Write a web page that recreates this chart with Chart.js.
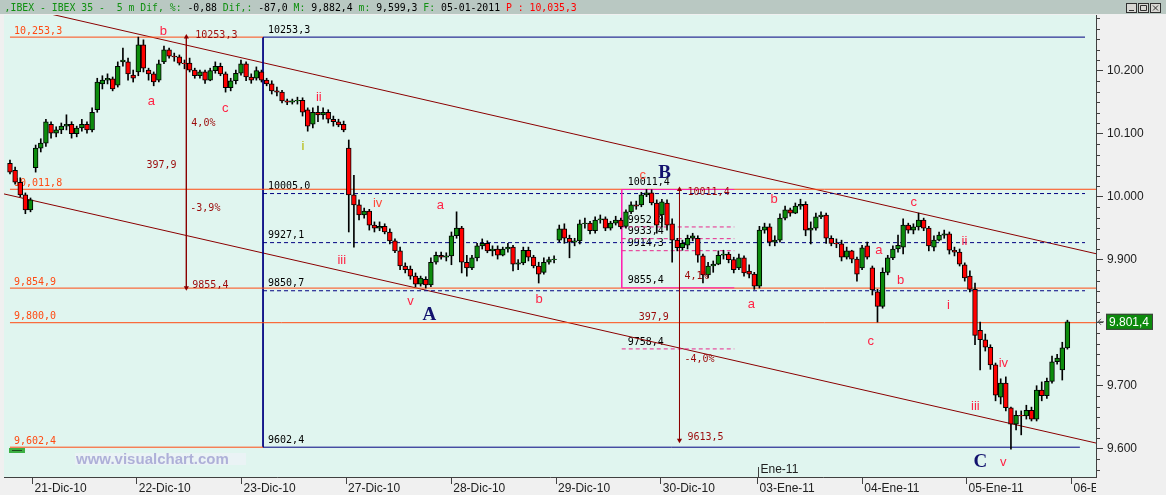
<!DOCTYPE html>
<html><head><meta charset="utf-8">
<script src="https://cdn.jsdelivr.net/npm/chart.js@4.4.1/dist/chart.umd.min.js"></script>
<style>html,body{margin:0;padding:0;background:#f0f0f0;overflow:hidden}canvas{display:block}</style>
</head><body>
<canvas id="c" width="1166" height="495"></canvas>
<script>
// ---- time axis (index of 25-minute candles) ----
const dayTicks  = [4.4, 24.69, 45.11, 65.47, 85.97, 106.39, 126.79, 145.65, 166.03, 186.34, 206.79];
const dayLabels = ['21-Dic-10','22-Dic-10','23-Dic-10','27-Dic-10','28-Dic-10','29-Dic-10','30-Dic-10','03-Ene-11','04-Ene-11','05-Ene-11','06-Ene-11'];
const monthTick = 145.65, monthLabel = 'Ene-11';

// ---- IBEX 35 candles ----
const opens = [10053,10042,10023,10003,9979,10046,10077,10085,10115,10101,
10106,10112,10115,10100,10109,10115,10106,10138,10179,10185,
10187,10177,10214,10214,10193,10198,10241,10201,10195,10185,
10214,10233,10223,10222,10212,10212,10201,10192,10198,10185,
10200,10207,10195,10173,10184,10196,10211,10190,10188,10198,
10185,10179,10168,10166,10152,10150,10152,10153,10138,10115,
10134,10130,10134,10123,10119,10115,10077,10003,9987,9971,
9977,9955,9950,9953,9944,9930,9914,9890,9885,9874,
9861,9869,9860,9896,9907,9904,9906,9938,9950,9896,
9887,9903,9922,9926,9914,9917,9907,9917,9920,9893,
9895,9915,9904,9890,9880,9896,9900,9931,9949,9934,
9928,9930,9957,9958,9946,9963,9965,9950,9958,9963,
9953,9976,9987,9987,10003,10006,9990,9971,9990,9957,
9931,9919,9923,9934,9934,9906,9876,9890,9893,9907,
9909,9900,9887,9903,9882,9877,9858,9947,9952,9928,
9931,9966,9979,9974,9985,9988,9947,9950,9968,9971,
9934,9926,9925,9904,9914,9901,9887,9922,9887,9849,
9826,9880,9903,9917,9920,9955,9947,9952,9963,9950,
9920,9931,9939,9941,9915,9912,9892,9874,9853,9788,
9773,9761,9733,9682,9704,9665,9639,9653,9652,9661,
9647,9693,9684,9707,9738,9725,9760];
const highs = [10058,10047,10030,10006,9998,10082,10092,10123,10119,10111,
10117,10130,10119,10112,10123,10119,10141,10188,10192,10195,
10190,10214,10236,10220,10201,10253.3,10249,10204,10198,10217,
10239,10236,10228,10225,10217,10220,10204,10201,10201,10204,
10214,10212,10198,10188,10201,10217,10214,10195,10206,10201,
10188,10184,10174,10169,10155,10155,10158,10157,10141,10141,
10144,10141,10138,10128,10123,10120,10090,10034,9995,9982,
9980,9960,9960,9957,9949,9933,9920,9895,9890,9879,
9874,9873,9903,9912,9912,9911,9944,9976,9953,9907,
9907,9926,9933,9930,9922,9922,9920,9926,9923,9900,
9920,9920,9907,9896,9903,9904,9906,9955,9957,9939,
9934,9963,9966,9961,9968,9971,9968,9961,9969,9966,
9979,9992,9993,10007,10011.4,10011,9995,9996,9995,9965,
9934,9931,9939,9942,9938,9909,9896,9898,9914,9915,
9912,9904,9909,9906,9892,9880,9953,9958,9957,9938,
9973,9985,9982,9990,9996,9992,9960,9974,9976,9974,
9938,9933,9931,9920,9915,9904,9923,9928,9890,9853,
9887,9907,9922,9939,9965,9958,9957,9974,9966,9953,
9938,9944,9947,9944,9920,9917,9895,9882.4,9863,9801,
9782,9765,9736,9711,9714,9666,9660,9660,9669,9666,
9700,9706,9712,9747,9750,9769,9804];
const lows = [10036,10020,10000,9973,9976,10039,10071,10080,10093,10095,
10100,10106,10093,10095,10104,10101,10103,10134,10171,10179,
10168,10174,10207,10185,10182,10192,10198,10185,10176,10182,
10211,10220,10215,10209,10203,10198,10188,10188,10180,10184,
10196,10192,10166,10168,10179,10193,10184,10180,10185,10182,
10176,10163,10160,10149,10146,10147,10147,10128,10104,10109,
10119,10123,10117,10112,10111,10103,9944,9920,9963,9966,
9947,9944,9946,9941,9925,9911,9884,9879,9869,9857,
9858,9855,9857,9893,9901,9898,9892,9934,9879,9874,
9884,9898,9917,9911,9906,9901,9906,9912,9882,9884,
9892,9898,9887,9863,9877,9893,9895,9928,9926,9903,
9922,9925,9950,9941,9942,9958,9946,9947,9955,9949,
9950,9973,9980,9984,10000,9987,9942,9952,9947,9896,
9914,9915,9917,9930,9896,9863,9871,9880,9892,9901,
9895,9879,9884,9874,9871,9853,9855,9942,9922,9922,
9928,9963,9969,9973,9980,9938,9925,9947,9965,9926,
9922,9919,9898,9901,9895,9866,9884,9901,9844,9801,
9823,9876,9900,9912,9909,9942,9941,9947,9946,9914,
9914,9930,9934,9909,9906,9890,9866,9849,9765,9725,
9755,9726,9676,9671,9660,9599.3,9630,9622,9647,9644,
9644,9676,9680,9704,9734,9709,9758];
const closes = [10039,10023,10003,9979,9995,10077,10085,10119,10101,10106,
10112,10115,10100,10109,10115,10106,10134,10182,10185,10188,
10171,10207,10217,10195,10188,10241,10204,10195,10182,10211,
10233,10223,10222,10212,10211,10201,10192,10198,10185,10200,
10207,10195,10173,10184,10196,10211,10190,10185,10200,10185,
10179,10168,10166,10152,10150,10152,10153,10134,10112,10134,
10130,10134,10123,10119,10114,10106,10003,9987,9971,9977,
9955,9950,9953,9944,9930,9914,9890,9884,9874,9861,
9871,9860,9896,9907,9904,9906,9938,9950,9896,9887,
9903,9922,9926,9914,9917,9907,9917,9920,9893,9895,
9915,9904,9890,9877,9896,9900,9901,9949,9934,9928,
9930,9957,9958,9946,9963,9965,9950,9958,9963,9952,
9976,9987,9985,10003,10006,9990,9955,9992,9955,9931,
9919,9926,9934,9938,9907,9876,9890,9893,9907,9909,
9900,9884,9903,9879,9877,9858,9947,9952,9928,9931,
9966,9979,9974,9985,9988,9947,9950,9968,9971,9934,
9926,9925,9904,9914,9901,9877,9919,9904,9852,9826,
9880,9903,9917,9923,9955,9947,9952,9963,9950,9922,
9931,9939,9941,9915,9912,9893,9871,9853,9780,9773,
9761,9733,9685,9704,9665,9639,9653,9652,9661,9647,
9693,9684,9707,9738,9744,9760,9801.4];

// ---- drawn levels (prices) ----
const orangeLevels = [10253.3, 10011.8, 9854.9, 9800.0, 9602.4];
const orangeTexts  = ['10,253,3','10,011,8','9,854,9','9,800,0','9,602,4'];
const fiboLevels = [10253.3, 10005.0, 9927.1, 9850.7, 9602.4];
const fiboTexts  = ['10253,3','10005,0','9927,1','9850,7','9602,4'];
const boxLevels = [10011.4, 9952.0, 9933.4, 9914.3, 9855.4, 9758.4];
const boxTexts  = ['10011,4','9952,0','9933,4','9914,3','9855,4','9758,4'];
const measureA = {from: 10253.3, to: 9855.4, top: '10253,3', bottom: '9855,4', up: '4,0%', size: '397,9', down: '-3,9%'};
const measureB = {from: 10011.4, to: 9613.5, top: '10011,4', bottom: '9613,5', up: '4,1%', size: '397,9', down: '-4,0%'};
const channelUpper = [[8.15, 10289.5], [211.57, 9909.5]];
const channelLower = [[-1.165, 10004.4], [211.57, 9609.0]];
const lastPriceText = '9.801,4';

// ---- wave labels: [text, time, price, kind] ----
const waveLabels = [
 ['b',29.89,10263,'r'],['a',27.56,10151.9,'r'],['c',41.93,10140.8,'r'],['ii',60.17,10158.2,'r'],['i',57.07,10080.5,'o'],
 ['iii',64.64,9899.5,'r'],['iv',71.62,9990,'or'],['v',78.03,9834.4,'r'],['A',81.72,9812.2,'N'],['a',83.85,9986.8,'r'],
 ['b',103.07,9837.6,'r'],['c',123.25,10034.4,'or'],['B',127.52,10037.6,'N'],['a',144.41,9829.7,'r'],['b',148.87,9996.3,'r'],
 ['a',169.25,9915.4,'r'],['b',173.52,9867.8,'r'],['c',167.7,9771,'r'],['c',176.05,9991.5,'r'],['ii',185.95,9929.7,'r'],
 ['i',182.84,9828.1,'r'],['iv',193.52,9736,'r'],['iii',188.08,9667.8,'r'],['v',193.52,9578.9,'r'],['C',189.05,9578.9,'N']
];

// ---- layout / style constants ----
const X_MIN = -1.165, X_MAX = 211.57, Y_MIN = 9555.1, Y_MAX = 10288.4;
const FIBO_LEFT = 49.3, FIBO_RIGHT = 209.43, BOX_LEFT = 119.18, BOX_RIGHT = 141.11, MEAS_A = 34.36, MEAS_B = 130.43;
const ORANGE = '#ff4a12', NAVY = '#000080', PINK = '#ff20b0', PINKD = '#e8288c', DRED = '#8b0000', DREDT = '#9b0a0a';
const GREEN = '#0c8c0c', RED = '#ff0000';
const AXF = '"Liberation Sans",Arial,sans-serif';
const MONO = '"DejaVu Sans Mono",monospace';

function seg(x1, y1, x2, y2, color, dash, order, extra) {
  return Object.assign({type: 'line', data: [{x: x1, y: y1}, {x: x2, y: y2}], borderColor: color, borderWidth: 1,
    borderDash: dash || [], pointRadius: 0, fill: false, tension: 0, order: order}, extra || {});
}

const idx = closes.map((_, i) => i);
const datasets = [
  {type: 'bar', data: idx.map(i => ({x: i, y: [opens[i], closes[i]]})),
   backgroundColor: idx.map(i => closes[i] >= opens[i] ? GREEN : RED), borderColor: '#000', borderWidth: 1,
   borderSkipped: false, barThickness: 4.8, grouped: false, order: 0},
  {type: 'bar', data: idx.map(i => ({x: i, y: [lows[i], highs[i]]})), backgroundColor: '#000', borderWidth: 0,
   barThickness: 1, grouped: false, order: 1}
];
[[MEAS_A, measureA], [MEAS_B, measureB]].forEach(([k, m]) => {
  datasets.push(seg(k, m.from, k, m.to, DRED, null, 2, {pointRadius: 3, pointStyle: 'triangle', pointRotation: [0, 180],
    pointBackgroundColor: DRED, pointBorderColor: DRED, pointBorderWidth: 0}));
});
datasets.push(seg(BOX_LEFT, boxLevels[0], BOX_RIGHT, boxLevels[0], PINK, null, 3));
datasets.push(seg(BOX_LEFT, boxLevels[4], BOX_RIGHT, boxLevels[4], PINK, null, 3));
datasets.push(seg(BOX_LEFT, boxLevels[0], BOX_LEFT, boxLevels[4], PINK, null, 3));
[1, 2, 3, 5].forEach(j => datasets.push(seg(BOX_LEFT, boxLevels[j], BOX_RIGHT, boxLevels[j], PINKD, [4, 3], 3)));
orangeLevels.forEach((v, j) => datasets.push(seg(0, v, (j === 0 || j === 4) ? FIBO_LEFT : X_MAX, v, ORANGE, null, 4)));
datasets.push(seg(FIBO_LEFT, fiboLevels[0], FIBO_RIGHT, fiboLevels[0], NAVY, null, 5));
datasets.push(seg(FIBO_LEFT, fiboLevels[4], FIBO_RIGHT - 1, fiboLevels[4], NAVY, null, 5));
datasets.push(seg(FIBO_LEFT, fiboLevels[0], FIBO_LEFT, fiboLevels[4], NAVY, null, 5));
[1, 2, 3].forEach(j => datasets.push(seg(FIBO_LEFT, fiboLevels[j], FIBO_RIGHT, fiboLevels[j], NAVY, [4, 3], 5)));
datasets.push(seg(channelUpper[0][0], channelUpper[0][1], channelUpper[1][0], channelUpper[1][1], DRED, null, 6));
datasets.push(seg(channelLower[0][0], channelLower[0][1], channelLower[1][0], channelLower[1][1], DRED, null, 6));

function fmtThousands(v) { return Math.floor(v / 1000) + '.' + String(Math.round(v % 1000)).padStart(3, '0'); }

const annot = {
  id: 'annot',
  beforeDraw(chart) {
    const {ctx, chartArea: a} = chart;
    ctx.save();
    ctx.fillStyle = '#f0f0f0'; ctx.fillRect(0, 0, chart.width, chart.height);
    ctx.fillStyle = '#b9c8c2'; ctx.fillRect(0, 0, chart.width, 14);
    ctx.fillStyle = '#e0f5ef'; ctx.fillRect(a.left, a.top, a.right - a.left, a.bottom - a.top);
    ctx.restore();
  },
  beforeDatasetsDraw(chart) {
    const {ctx} = chart, X = chart.scales.x, Y = chart.scales.y;
    ctx.save();
    ctx.font = '10px ' + MONO; ctx.textBaseline = 'middle'; ctx.textAlign = 'left';
    ctx.fillStyle = ORANGE;
    orangeLevels.forEach((v, j) => ctx.fillText(orangeTexts[j], X.getPixelForValue(0.78), Y.getPixelForValue(v) - 6));
    ctx.fillStyle = '#000';
    fiboLevels.forEach((v, j) => ctx.fillText(fiboTexts[j], X.getPixelForValue(50.27), Y.getPixelForValue(v) - 7));
    boxLevels.forEach((v, j) => ctx.fillText(boxTexts[j], X.getPixelForValue(120.34), Y.getPixelForValue(v) - 7));
    ctx.restore();
  },
  afterDatasetsDraw(chart) {
    const {ctx} = chart, X = chart.scales.x, Y = chart.scales.y;
    const px = v => X.getPixelForValue(v), py = v => Y.getPixelForValue(v);
    ctx.save();
    ctx.textBaseline = 'middle';
    ctx.font = '10px ' + MONO; ctx.fillStyle = DREDT; ctx.textAlign = 'left';
    ctx.fillText(measureA.top, px(36.1), py(10256.6));
    ctx.fillText(measureA.bottom, px(35.52), py(9859.8));
    ctx.fillText(measureA.up, px(35.33), py(10117));
    ctx.fillText(measureA.size, px(26.59), py(10050.3));
    ctx.fillText(measureA.down, px(35.13), py(9982));
    ctx.fillText(measureB.top, px(131.99), py(10007.4));
    ctx.fillText(measureB.bottom, px(131.99), py(9617.8));
    ctx.fillText(measureB.up, px(131.41), py(9874.1));
    ctx.fillText(measureB.size, px(122.48), py(9808.2));
    ctx.fillText(measureB.down, px(131.41), py(9742.4));
    ctx.textAlign = 'center';
    waveLabels.forEach(([t, k, p, kind]) => {
      if (kind === 'N') { ctx.font = 'bold 19px "Liberation Serif",serif'; ctx.fillStyle = '#12126e'; }
      else { ctx.font = '13px "Liberation Sans",sans-serif';
        ctx.fillStyle = kind === 'o' ? '#b4b400' : (kind === 'or' ? '#ff4a3a' : '#ff2244'); }
      ctx.fillText(t, px(k), py(p));
    });
    ctx.font = 'bold 15px "Liberation Sans",sans-serif'; ctx.textAlign = 'left';
    ctx.fillStyle = 'rgba(236,242,246,0.8)'; ctx.fillRect(75, 453, 171, 12);
    ctx.fillStyle = '#aeb0d8'; ctx.fillText('www.visualchart.com', 76, 459.5);
    ctx.fillStyle = '#3cb043'; ctx.fillRect(9, 448, 16, 5);
    ctx.fillStyle = '#1d4d1d'; ctx.fillRect(12, 450, 10, 1);
    ctx.restore();
  },
  afterDraw(chart) {
    const {ctx, chartArea: a} = chart, X = chart.scales.x, Y = chart.scales.y;
    ctx.save();
    ctx.strokeStyle = '#404040'; ctx.lineWidth = 1;
    const minorStep = 100 / 6;
    for (let j = -6; j <= 48; j++) {
      const v = 9600 + j * minorStep;
      if (v < Y_MIN || v > Y_MAX || j % 6 === 0) continue;
      const y = Math.round(Y.getPixelForValue(v)) + 0.5;
      ctx.beginPath(); ctx.moveTo(a.right, y); ctx.lineTo(a.right + 4, y); ctx.stroke();
    }
    const mx = Math.round(X.getPixelForValue(monthTick)) + 0.5;
    ctx.beginPath(); ctx.moveTo(mx, a.bottom - 10); ctx.lineTo(mx, a.bottom); ctx.stroke();
    ctx.font = '12px ' + AXF; ctx.fillStyle = '#202020'; ctx.textAlign = 'left'; ctx.textBaseline = 'middle';
    ctx.fillText(monthLabel, mx + 2, a.bottom - 7);
    const ly = Y.getPixelForValue(closes[closes.length - 1]);
    ctx.fillStyle = '#0c8a0c'; ctx.fillRect(1106, ly - 8, 47, 16);
    ctx.strokeStyle = '#404040'; ctx.strokeRect(1106.5, ly - 7.5, 46, 15);
    ctx.fillStyle = '#fff'; ctx.font = '12px ' + AXF; ctx.fillText(lastPriceText, 1109, ly + 0.5);
    ctx.strokeStyle = '#505050'; ctx.beginPath(); ctx.moveTo(1098, ly); ctx.lineTo(1104, ly); ctx.stroke();
    ctx.beginPath(); ctx.moveTo(1098, ly); ctx.lineTo(1101, ly - 3); ctx.moveTo(1098, ly); ctx.lineTo(1101, ly + 3); ctx.stroke();
    const G = '#109010', K = '#000', R = '#ff0000';
    const parts = [[',IBEX - IBEX 35 -  5 m Dif, %: ', G], ['-0,88 ', K], ['Dif,: ', G], ['-87,0 ', K], ['M: ', G],
      ['9,882,4 ', K], ['m: ', G], ['9,599,3 ', K], ['F: ', G], ['05-01-2011 ', K], ['P : 10,035,3', R]];
    ctx.font = '9.8px ' + MONO; ctx.textBaseline = 'middle';
    let tx = 4.6;
    parts.forEach(([t, c]) => { ctx.fillStyle = c; ctx.fillText(t, tx, 8); tx += ctx.measureText(t).width; });
    [1126, 1138, 1150].forEach((bx, j) => {
      ctx.fillStyle = '#d8d8d4'; ctx.fillRect(bx, 3, 11, 10);
      ctx.strokeStyle = '#303030'; ctx.strokeRect(bx + 0.5, 3.5, 10, 9);
      ctx.beginPath();
      if (j === 0) { ctx.moveTo(bx + 3, 10.5); ctx.lineTo(bx + 8, 10.5); }
      else if (j === 1) { ctx.rect(bx + 2.5, 5.5, 6, 5); }
      else { ctx.moveTo(bx + 3, 5.5); ctx.lineTo(bx + 8, 10.5); ctx.moveTo(bx + 8, 5.5); ctx.lineTo(bx + 3, 10.5); }
      ctx.stroke();
    });
    ctx.restore();
  }
};

new Chart(document.getElementById('c'), {
  type: 'bar',
  data: {datasets},
  options: {
    responsive: false, animation: false, devicePixelRatio: 1,
    layout: {padding: {top: 15, left: 0, right: 0, bottom: 0}},
    plugins: {legend: {display: false}, tooltip: {enabled: false}},
    scales: {
      x: {
        type: 'linear', position: 'bottom', min: X_MIN, max: X_MAX, offset: false,
        grid: {display: true, drawOnChartArea: false, drawTicks: true, tickLength: 7, color: '#404040', offset: false},
        border: {display: true, color: '#404040'},
        ticks: {autoSkip: false, maxRotation: 0, minRotation: 0, align: 'start', labelOffset: 2, padding: -3,
          color: '#202020', font: {family: AXF, size: 12}, callback: (v, i) => dayLabels[i]},
        afterBuildTicks: s => { s.ticks = dayTicks.map(v => ({value: v})); },
        afterFit: s => {
          s.height = 18;
          if (!s._clipPatched) {
            const orig = s.drawLabels;
            s.drawLabels = function (area) {
              const c = this.ctx; c.save(); c.beginPath(); c.rect(0, this.top, this.right, this.bottom - this.top + 10); c.clip();
              orig.call(this, area); c.restore();
            };
            s._clipPatched = true;
          }
        }
      },
      y: {
        type: 'linear', position: 'right', min: Y_MIN, max: Y_MAX,
        grid: {display: true, drawOnChartArea: false, drawTicks: true, tickLength: 7, color: '#404040'},
        border: {display: true, color: '#404040'},
        ticks: {stepSize: 100, includeBounds: false, padding: 4, color: '#202020', font: {family: AXF, size: 12},
          callback: v => fmtThousands(v)},
        afterFit: s => { s.width = 70; }
      }
    }
  },
  plugins: [annot]
});
</script>
</body></html>
